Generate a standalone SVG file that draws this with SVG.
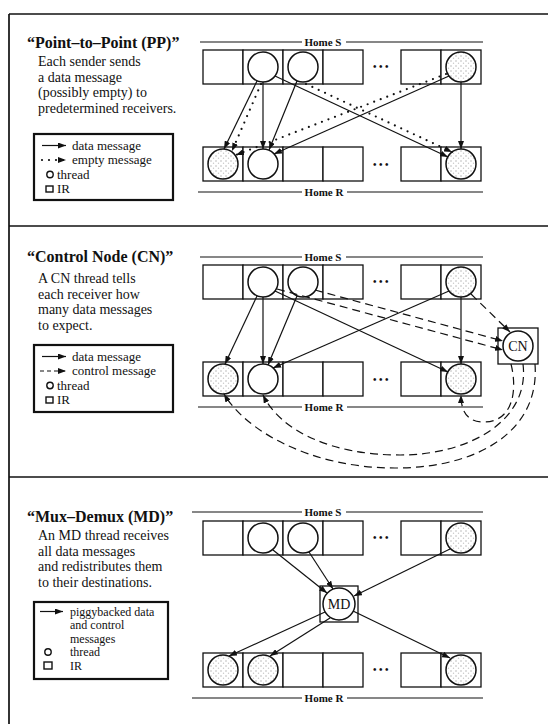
<svg xmlns="http://www.w3.org/2000/svg" width="549" height="724" viewBox="0 0 549 724">
  <style>
    .frame{stroke:#111;stroke-width:1.7;fill:none}
    .ir{fill:#fff;stroke:#111;stroke-width:1.3}
    .th{fill:#fff;stroke:#111;stroke-width:1.5}
    .sp{fill:url(#stipple)}
    .data{stroke:#111;stroke-width:1.2;fill:none;marker-end:url(#ah)}
    .empty{stroke:#111;stroke-width:2.2;stroke-dasharray:0 7;stroke-linecap:round;fill:none;marker-end:url(#ah)}
    .ctrl{stroke:#111;stroke-width:1.2;stroke-dasharray:8 5;fill:none;marker-end:url(#ah)}
    .home{stroke:#111;stroke-width:1.2}
    .legbox{fill:#fff;stroke:#111;stroke-width:2.2}
    .sym{fill:#fff;stroke:#111;stroke-width:1.4}
    text{fill:#111;font-family:"Liberation Serif",serif}
    .title{font-size:16px;font-weight:bold}
    .desc{font-size:14px}
    .leg{font-size:13px}
    .leg3{font-size:12px}
    .hm{font-size:11px;font-weight:bold;text-anchor:middle}
    .dots{font-size:10px;font-weight:bold;text-anchor:middle;letter-spacing:2.5px}
    .lbl{font-size:14px;text-anchor:middle}
  </style>
  <defs>
    <marker id="ah" markerWidth="8" markerHeight="6" refX="8" refY="3" orient="auto" markerUnits="userSpaceOnUse">
      <path d="M0,0 L8,3 L0,6 z" fill="#111"/>
    </marker>
    <pattern id="stipple" width="5" height="5" patternUnits="userSpaceOnUse">
      <rect width="5" height="5" fill="#fff"/>
      <circle cx="1" cy="1" r="0.8" fill="#b8b8b8"/>
      <circle cx="3.5" cy="3.2" r="0.7" fill="#c8c8c8"/>
    </pattern>
  </defs>

  <!-- outer frame and panel dividers -->
  <g id="frame">
    <line class="frame" x1="9" y1="14" x2="548" y2="14"/>
    <line class="frame" x1="9" y1="14" x2="9" y2="724"/>
    <line class="frame" x1="9" y1="226" x2="548" y2="226"/>
    <line class="frame" x1="9" y1="477" x2="548" y2="477"/>
  </g>

  <!-- ===== Point-to-Point panel ===== -->
  <g id="pp-text">
    <text class="title" x="27" y="48">“Point–to–Point (PP)”</text>
    <text class="desc"><tspan x="38" y="66">Each sender sends</tspan><tspan x="38" y="81.5">a data message</tspan><tspan x="38" y="97">(possibly empty) to</tspan><tspan x="38" y="112.5">predetermined receivers.</tspan></text>
  </g>
  <g id="pp-legend">
    <rect class="legbox" x="34" y="134" width="139" height="66"/>
    <line class="data" x1="42" y1="145.5" x2="66" y2="145.5"/>
    <line class="empty" x1="42" y1="160" x2="66" y2="160"/>
    <circle class="sym" cx="50" cy="174.5" r="3.2"/>
    <rect class="sym" x="46" y="186" width="7" height="6"/>
    <text class="leg"><tspan x="72" y="149.5">data message</tspan><tspan x="72" y="164">empty message</tspan><tspan x="57" y="178.5">thread</tspan><tspan x="57" y="193">IR</tspan></text>
  </g>
  <g id="pp-home">
    <line class="home" x1="200" y1="42" x2="302" y2="42"/>
    <text class="hm" x="323" y="46">Home S</text>
    <line class="home" x1="346" y1="42" x2="483" y2="42"/>
    <line class="home" x1="198" y1="192" x2="302" y2="192"/>
    <text class="hm" x="324" y="196">Home R</text>
    <line class="home" x1="347" y1="192" x2="483" y2="192"/>
    <text class="dots" x="382" y="70">•••</text>
    <text class="dots" x="382" y="168">•••</text>
  </g>
  <g id="pp-s1"><rect class="ir" x="203" y="50" width="40" height="34"/></g>
  <g id="pp-s2"><rect class="ir" x="243" y="50" width="40" height="34"/><circle class="th" cx="263" cy="67" r="15"/></g>
  <g id="pp-s3"><rect class="ir" x="283" y="50" width="40" height="34"/><circle class="th" cx="303" cy="67" r="15"/></g>
  <g id="pp-s4"><rect class="ir" x="323" y="50" width="40" height="34"/></g>
  <g id="pp-s5"><rect class="ir" x="401" y="50" width="40" height="34"/></g>
  <g id="pp-s6"><rect class="ir" x="441" y="50" width="40" height="34"/><circle class="th sp" cx="461" cy="67" r="15"/></g>
  <g id="pp-r1"><rect class="ir" x="203" y="147" width="40" height="34"/><circle class="th sp" cx="223" cy="164" r="15"/></g>
  <g id="pp-r2"><rect class="ir" x="243" y="147" width="40" height="34"/><circle class="th" cx="263" cy="164" r="15"/></g>
  <g id="pp-r3"><rect class="ir" x="283" y="147" width="40" height="34"/></g>
  <g id="pp-r4"><rect class="ir" x="323" y="147" width="40" height="34"/></g>
  <g id="pp-r5"><rect class="ir" x="401" y="147" width="40" height="34"/></g>
  <g id="pp-r6"><rect class="ir" x="441" y="147" width="40" height="34"/><circle class="th sp" cx="461" cy="164" r="15"/></g>
  <g id="pp-connectors">
    <line class="data" x1="257" y1="81" x2="224" y2="149"/>
    <line class="empty" x1="261" y1="84" x2="232" y2="151"/>
    <line class="data" x1="263" y1="82" x2="263" y2="149"/>
    <line class="data" x1="275" y1="76" x2="448" y2="157"/>
    <line class="data" x1="297" y1="81" x2="269" y2="150"/>
    <line class="empty" x1="306" y1="84" x2="452" y2="152"/>
    <line class="data" x1="449" y1="76" x2="274" y2="154"/>
    <line class="empty" x1="446" y1="74" x2="236" y2="155"/>
    <line class="data" x1="461" y1="82" x2="461" y2="149"/>
  </g>

  <!-- ===== Control Node panel ===== -->
  <g id="cn-text">
    <text class="title" x="27" y="262">“Control Node (CN)”</text>
    <text class="desc"><tspan x="38" y="283">A CN thread tells</tspan><tspan x="38" y="298.5">each receiver how</tspan><tspan x="38" y="314">many data messages</tspan><tspan x="38" y="329.5">to expect.</tspan></text>
  </g>
  <g id="cn-legend">
    <rect class="legbox" x="34" y="345" width="139" height="67"/>
    <line class="data" x1="42" y1="356.5" x2="66" y2="356.5"/>
    <line class="ctrl" x1="40" y1="371" x2="66" y2="371" style="stroke-dasharray:4 3"/>
    <circle class="sym" cx="50" cy="385.5" r="3.2"/>
    <rect class="sym" x="46" y="397" width="7" height="6"/>
    <text class="leg"><tspan x="72" y="360.5">data message</tspan><tspan x="72" y="375">control message</tspan><tspan x="57" y="389.5">thread</tspan><tspan x="57" y="404">IR</tspan></text>
  </g>
  <g id="cn-home">
    <line class="home" x1="200" y1="257" x2="302" y2="257"/>
    <text class="hm" x="323" y="261">Home S</text>
    <line class="home" x1="346" y1="257" x2="483" y2="257"/>
    <line class="home" x1="198" y1="407" x2="302" y2="407"/>
    <text class="hm" x="324" y="411">Home R</text>
    <line class="home" x1="347" y1="407" x2="483" y2="407"/>
    <text class="dots" x="382" y="285">•••</text>
    <text class="dots" x="382" y="383">•••</text>
  </g>
  <g id="cn-s1"><rect class="ir" x="203" y="265" width="40" height="34"/></g>
  <g id="cn-s2"><rect class="ir" x="243" y="265" width="40" height="34"/><circle class="th" cx="263" cy="282" r="15"/></g>
  <g id="cn-s3"><rect class="ir" x="283" y="265" width="40" height="34"/><circle class="th" cx="303" cy="282" r="15"/></g>
  <g id="cn-s4"><rect class="ir" x="323" y="265" width="40" height="34"/></g>
  <g id="cn-s5"><rect class="ir" x="401" y="265" width="40" height="34"/></g>
  <g id="cn-s6"><rect class="ir" x="441" y="265" width="40" height="34"/><circle class="th sp" cx="461" cy="282" r="15"/></g>
  <g id="cn-r1"><rect class="ir" x="203" y="362" width="40" height="34"/><circle class="th sp" cx="223" cy="379" r="15"/></g>
  <g id="cn-r2"><rect class="ir" x="243" y="362" width="40" height="34"/><circle class="th" cx="263" cy="379" r="15"/></g>
  <g id="cn-r3"><rect class="ir" x="283" y="362" width="40" height="34"/></g>
  <g id="cn-r4"><rect class="ir" x="323" y="362" width="40" height="34"/></g>
  <g id="cn-r5"><rect class="ir" x="401" y="362" width="40" height="34"/></g>
  <g id="cn-r6"><rect class="ir" x="441" y="362" width="40" height="34"/><circle class="th sp" cx="461" cy="379" r="15"/></g>
  <g id="cn-node"><rect class="ir" x="498" y="328" width="40" height="36"/><circle class="th" cx="518" cy="346" r="15"/><text class="lbl" x="518" y="351">CN</text></g>
  <g id="cn-connectors">
    <line class="data" x1="257" y1="296" x2="225" y2="364"/>
    <line class="data" x1="263" y1="297" x2="263" y2="364"/>
    <line class="data" x1="275" y1="291" x2="448" y2="372"/>
    <line class="data" x1="297" y1="296" x2="268" y2="365"/>
    <line class="data" x1="449" y1="291" x2="273" y2="368"/>
    <line class="data" x1="461" y1="297" x2="461" y2="364"/>
    <line class="ctrl" x1="277" y1="289" x2="503" y2="350"/>
    <line class="ctrl" x1="315" y1="290" x2="503" y2="341"/>
    <line class="ctrl" x1="471" y1="294" x2="510" y2="332"/>
    <path class="ctrl" d="M511 364 C518 392 512 422 484 422 C466 422 461 410 461 395"/>
    <path class="ctrl" d="M523 364 C530 420 470 455 400 455 C330 455 280 430 263 395"/>
    <path class="ctrl" d="M535 364 C540 430 480 468 395 468 C310 468 245 430 224 394"/>
  </g>

  <!-- ===== Mux-Demux panel ===== -->
  <g id="md-text">
    <text class="title" x="27" y="522">“Mux–Demux (MD)”</text>
    <text class="desc"><tspan x="38" y="540">An MD thread receives</tspan><tspan x="38" y="555.5">all data messages</tspan><tspan x="38" y="571">and redistributes them</tspan><tspan x="38" y="586.5">to their destinations.</tspan></text>
  </g>
  <g id="md-legend">
    <rect class="legbox" x="34" y="602" width="134" height="77"/>
    <line class="data" x1="40" y1="611.5" x2="63" y2="611.5"/>
    <circle class="sym" cx="48" cy="652" r="3.2"/>
    <rect class="sym" x="44" y="662" width="8" height="7"/>
    <text class="leg3"><tspan x="70" y="615.5">piggybacked data</tspan><tspan x="70" y="629">and control</tspan><tspan x="70" y="642.5">messages</tspan><tspan x="70" y="656">thread</tspan><tspan x="70" y="669.5">IR</tspan></text>
  </g>
  <g id="md-home">
    <line class="home" x1="192" y1="512" x2="302" y2="512"/>
    <text class="hm" x="323" y="516">Home S</text>
    <line class="home" x1="346" y1="512" x2="483" y2="512"/>
    <line class="home" x1="192" y1="698" x2="302" y2="698"/>
    <text class="hm" x="324" y="702">Home R</text>
    <line class="home" x1="347" y1="698" x2="483" y2="698"/>
    <text class="dots" x="382" y="541">•••</text>
    <text class="dots" x="382" y="673">•••</text>
  </g>
  <g id="md-s1"><rect class="ir" x="203" y="521" width="40" height="34"/></g>
  <g id="md-s2"><rect class="ir" x="243" y="521" width="40" height="34"/><circle class="th" cx="263" cy="538" r="15"/></g>
  <g id="md-s3"><rect class="ir" x="283" y="521" width="40" height="34"/><circle class="th" cx="303" cy="538" r="15"/></g>
  <g id="md-s4"><rect class="ir" x="323" y="521" width="40" height="34"/></g>
  <g id="md-s5"><rect class="ir" x="401" y="521" width="40" height="34"/></g>
  <g id="md-s6"><rect class="ir" x="441" y="521" width="40" height="34"/><circle class="th sp" cx="461" cy="538" r="15"/></g>
  <g id="md-r1"><rect class="ir" x="203" y="653" width="40" height="34"/><circle class="th sp" cx="223" cy="670" r="15"/></g>
  <g id="md-r2"><rect class="ir" x="243" y="653" width="40" height="34"/><circle class="th sp" cx="263" cy="670" r="15"/></g>
  <g id="md-r3"><rect class="ir" x="283" y="653" width="40" height="34"/></g>
  <g id="md-r4"><rect class="ir" x="323" y="653" width="40" height="34"/></g>
  <g id="md-r5"><rect class="ir" x="401" y="653" width="40" height="34"/></g>
  <g id="md-r6"><rect class="ir" x="441" y="653" width="40" height="34"/><circle class="th sp" cx="461" cy="670" r="15"/></g>
  <g id="md-node"><rect class="ir" x="320" y="586" width="38" height="36"/><circle class="th" cx="339" cy="604" r="16"/><text class="lbl" x="339" y="609">MD</text></g>
  <g id="md-connectors">
    <line class="data" x1="273" y1="550" x2="327" y2="593"/>
    <line class="data" x1="309" y1="552" x2="333" y2="589"/>
    <line class="data" x1="450" y1="549" x2="354" y2="596"/>
    <line class="data" x1="325" y1="612" x2="229" y2="656"/>
    <line class="data" x1="330" y1="618" x2="270" y2="656"/>
    <line class="data" x1="353" y1="611" x2="450" y2="658"/>
  </g>
</svg>
